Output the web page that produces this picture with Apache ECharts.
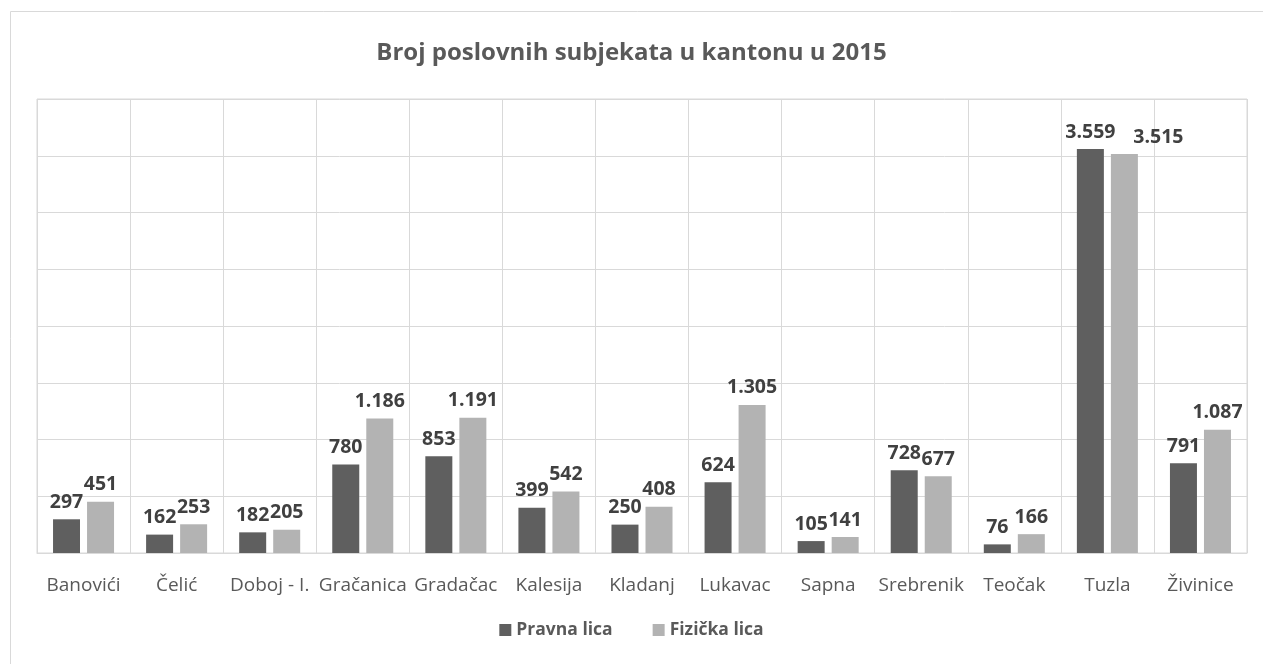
<!DOCTYPE html>
<html><head><meta charset="utf-8">
<script src="https://cdn.jsdelivr.net/npm/echarts@6/dist/echarts.min.js"></script>
<style>html,body{margin:0;padding:0;background:#fff}#c{width:1263px;height:664px}</style>
</head><body><div id="c"></div>
<script>
var categories = ["Banovići","Čelić","Doboj - I.","Gračanica","Gradačac","Kalesija","Kladanj","Lukavac","Sapna","Srebrenik","Teočak","Tuzla","Živinice"];
var pravnaLica = [297,162,182,780,853,399,250,624,105,728,76,3559,791];
var fizickaLica = [451,253,205,1186,1191,542,408,1305,141,677,166,3515,1087];
var seriesNames = ["Pravna lica","Fizička lica"];

function fmt(v){ return String(v).replace(/\B(?=(\d{3})+(?!\d))/g, "."); }
var FONT = "'Open Sans', sans-serif";
var labelStyle = {show:true, position:'top', distance:7, fontFamily:FONT, fontWeight:'bold', fontSize:19.5, color:'#404040',
  formatter:function(p){return fmt(p.value);} };

var fizData = fizickaLica.map(function(v,i){
  if (categories[i]==="Tuzla") return {value:v, label:{offset:[34,0]}};
  return v;
});

var chart = echarts.init(document.getElementById('c'), null, {renderer:'canvas'});
chart.setOption({
  animation:false,
  graphic:[{type:'rect', shape:{x:10.5,y:11.5,width:1300,height:700}, style:{fill:'none', stroke:'#d9d9d9', lineWidth:1}, z:-1}],
  title:{text:'Broj poslovnih subjekata u kantonu u 2015', left:'center', top:36,
    textStyle:{fontFamily:FONT, fontWeight:'bold', fontSize:24, color:'#595959'}},
  legend:{data:seriesNames, bottom:20, left:'center', itemWidth:12, itemHeight:12, itemGap:40, icon:'rect',
    textStyle:{fontFamily:FONT, fontWeight:'bold', fontSize:17.5, color:'#595959'}},
  grid:{left:37, right:16, top:99, height:454, show:true, borderColor:'#d9d9d9', borderWidth:1},
  xAxis:{type:'category', data:categories,
    axisLine:{lineStyle:{color:'#d9d9d9'}}, axisTick:{show:false},
    splitLine:{show:true, lineStyle:{color:'#d9d9d9', width:1}},
    axisLabel:{interval:0, margin:23, fontFamily:FONT, fontSize:19, color:'#595959'}},
  yAxis:{type:'value', min:0, max:4000, interval:500, axisLabel:{show:false}, axisLine:{show:false}, axisTick:{show:false},
    splitLine:{lineStyle:{color:'#d9d9d9', width:1}}},
  series:[
    {name:seriesNames[0], type:'bar', data:pravnaLica, barWidth:27, barGap:'26%', itemStyle:{color:'#5f5f5f'}, label:labelStyle},
    {name:seriesNames[1], type:'bar', data:fizData, barWidth:27, itemStyle:{color:'#b3b3b3'}, label:labelStyle}
  ]
});
</script></body></html>
